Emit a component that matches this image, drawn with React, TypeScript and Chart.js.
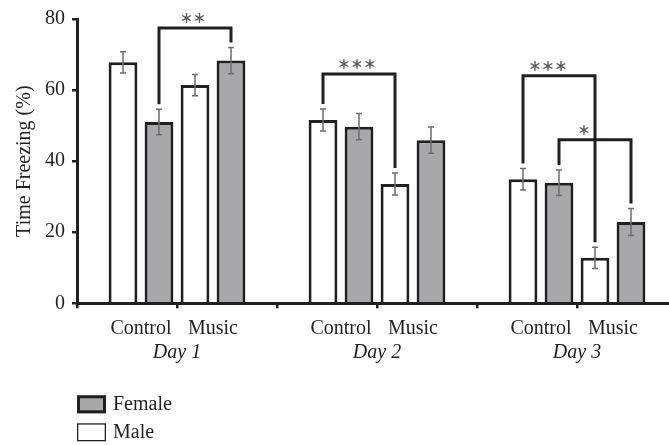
import React, { useEffect, useRef } from "react";
import { Chart, registerables } from "chart.js";

Chart.register(...registerables);

// ---- data -------------------------------------------------------------
const days = ["Day 1", "Day 2", "Day 3"];
const conditions = ["Control", "Music"];
const sexes = ["Female", "Male"];

// mean time freezing (%) per day
const maleControl = [67.8, 51.6, 34.9];
const femaleControl = [51.0, 49.7, 33.9];
const maleMusic = [61.4, 33.6, 12.8];
const femaleMusic = [68.3, 45.9, 22.9];

// standard error of the mean
const maleControlSem = [3.0, 3.1, 3.0];
const femaleControlSem = [3.6, 3.7, 3.6];
const maleMusicSem = [3.0, 3.1, 3.0];
const femaleMusicSem = [3.7, 3.7, 3.8];

// significance brackets: day, compared bars (series index), bracket level (%), stars
const sigDay = [0, 1, 2, 2];
const sigFrom = [1, 0, 0, 1];
const sigTo = [3, 2, 2, 3];
const sigLevel = [77.5, 64.5, 64, 46];
const sigStars = ["**", "***", "***", "*"];

// ---- styling ----------------------------------------------------------
const ink = "#231f20";
const grayFill = "#a8a8ab";
const whiteFill = "#ffffff";
const errColor = "#6d6e71";
const starColor = "#58595b";
const serif = "'Liberation Serif', 'Times New Roman', serif";

const series = [
  { cond: conditions[0], sex: "Male", values: maleControl, sem: maleControlSem },
  { cond: conditions[0], sex: "Female", values: femaleControl, sem: femaleControlSem },
  { cond: conditions[1], sex: "Male", values: maleMusic, sem: maleMusicSem },
  { cond: conditions[1], sex: "Female", values: femaleMusic, sem: femaleMusicSem },
];

const fillFor = (sex: string) => (sex === "Female" ? grayFill : whiteFill);

// days sit on every other unit of the linear x axis, leaving a tick between groups
const groupX = days.map((_, i) => 2 * i + 1);

const errorBars = {
  id: "errorBars",
  afterDatasetsDraw(chart: any) {
    const { ctx } = chart;
    const y = chart.scales.y;
    ctx.save();
    ctx.strokeStyle = errColor;
    ctx.lineWidth = 1.5;
    series.forEach((s, di) => {
      chart.getDatasetMeta(di).data.forEach((bar: any, i: number) => {
        const x = bar.x;
        const top = y.getPixelForValue(s.values[i] + s.sem[i]);
        const bot = y.getPixelForValue(s.values[i] - s.sem[i]);
        ctx.beginPath();
        ctx.moveTo(x, top);
        ctx.lineTo(x, bot);
        ctx.moveTo(x - 3, top);
        ctx.lineTo(x + 3, top);
        ctx.moveTo(x - 3, bot);
        ctx.lineTo(x + 3, bot);
        ctx.stroke();
      });
    });
    ctx.restore();
  },
};

const brackets = {
  id: "brackets",
  afterDatasetsDraw(chart: any) {
    const { ctx } = chart;
    const y = chart.scales.y;
    const legGap = 5;
    const legs: number[] = [];
    const shapes = sigDay.map((d, k) => {
      const a = series[sigFrom[k]];
      const b = series[sigTo[k]];
      const xL = chart.getDatasetMeta(sigFrom[k]).data[d].x;
      const xR = chart.getDatasetMeta(sigTo[k]).data[d].x;
      legs.push(xL, xR);
      return {
        xL,
        xR,
        yTop: y.getPixelForValue(sigLevel[k]),
        yL: y.getPixelForValue(a.values[d] + a.sem[d]) - legGap,
        yR: y.getPixelForValue(b.values[d] + b.sem[d]) - legGap,
        stars: sigStars[k],
      };
    });
    ctx.save();
    ctx.strokeStyle = ink;
    ctx.lineWidth = 3;
    ctx.lineJoin = "miter";
    ctx.lineCap = "butt";
    shapes.forEach((s) => {
      ctx.beginPath();
      ctx.moveTo(s.xL, s.yL);
      ctx.lineTo(s.xL, s.yTop);
      ctx.lineTo(s.xR, s.yTop);
      ctx.lineTo(s.xR, s.yR);
      ctx.stroke();
    });
    ctx.fillStyle = starColor;
    ctx.font = "16px 'DejaVu Sans'";
    ctx.textAlign = "center";
    ctx.textBaseline = "middle";
    shapes.forEach((s) => {
      let cx = (s.xL + s.xR) / 2 - 2;
      // keep the stars clear of another bracket's leg crossing the midpoint
      if (legs.some((lx) => lx !== s.xL && lx !== s.xR && Math.abs(lx - cx) < 10)) cx -= 9;
      const n = s.stars.length;
      for (let i = 0; i < n; i++) {
        ctx.fillText("\u2217", cx + (i - (n - 1) / 2) * 13, s.yTop - 9);
      }
    });
    ctx.restore();
  },
};

const labelsAndLegend = {
  id: "labelsAndLegend",
  afterDraw(chart: any) {
    const { ctx, chartArea } = chart;
    const base = chartArea.bottom;
    ctx.save();
    ctx.fillStyle = ink;
    ctx.textAlign = "center";
    ctx.textBaseline = "alphabetic";
    days.forEach((day, d) => {
      const px = (i: number) => chart.getDatasetMeta(i).data[d].x;
      ctx.font = `20px ${serif}`;
      ctx.fillText(conditions[0], (px(0) + px(1)) / 2, base + 31);
      ctx.fillText(conditions[1], (px(2) + px(3)) / 2, base + 31);
      ctx.font = `italic 20px ${serif}`;
      ctx.fillText(day, chart.scales.x.getPixelForValue(groupX[d]), base + 55);
    });

    // legend
    const lx = chartArea.left;
    ctx.font = `20px ${serif}`;
    ctx.textAlign = "left";
    sexes.forEach((sex, i) => {
      const top = base + 92 + i * 28;
      const bw = sex === "Female" ? 3 : 1.3;
      ctx.fillStyle = fillFor(sex);
      ctx.fillRect(lx, top, 29, 18);
      ctx.strokeStyle = ink;
      ctx.lineWidth = bw;
      ctx.strokeRect(lx + bw / 2, top + bw / 2, 29 - bw, 18 - bw);
      ctx.fillStyle = ink;
      ctx.fillText(sex, lx + 36, top + 15);
    });
    ctx.restore();
  },
};

export default function App() {
  const canvasRef = useRef<HTMLCanvasElement | null>(null);

  useEffect(() => {
    document.body.style.margin = "0";
    const canvas = canvasRef.current;
    if (!canvas) return;
    const chart = new Chart(canvas, {
      type: "bar",
      data: {
        datasets: series.map((s) => ({
          label: `${s.cond} ${s.sex}`,
          data: s.values.map((v, i) => ({ x: groupX[i], y: v })),
          backgroundColor: fillFor(s.sex),
          borderColor: ink,
          borderWidth: 3,
          // the baseline is the x axis line, drawn over the bars
          borderSkipped: "bottom",
          // the bar ruler uses the tick spacing (half a group), hence > 1
          categoryPercentage: 1.44,
          barPercentage: 0.8,
        })),
      },
      options: {
        animation: false,
        responsive: false,
        layout: { padding: { top: 15, left: 0, right: 0, bottom: 0 } },
        plugins: { legend: { display: false }, tooltip: { enabled: false } },
        scales: {
          x: {
            type: "linear",
            min: 0,
            max: 5.92,
            offset: false,
            z: 1,
            grid: {
              offset: false,
              drawOnChartArea: false,
              drawTicks: true,
              tickLength: 5,
              color: ink,
              lineWidth: 2.5,
            },
            border: { display: true, color: ink, width: 3 },
            ticks: { display: false, stepSize: 1, includeBounds: false },
            afterFit: (s: any) => {
              s.height = 141.7;
            },
          },
          y: {
            min: 0,
            max: 80,
            grid: {
              drawOnChartArea: false,
              drawTicks: true,
              tickLength: 5,
              color: ink,
              lineWidth: 2.5,
            },
            border: { display: true, color: ink, width: 3 },
            ticks: {
              stepSize: 20,
              color: ink,
              padding: 7,
              font: { family: serif, size: 20 },
            },
            title: {
              display: true,
              text: "Time Freezing (%)",
              color: ink,
              font: { family: serif, size: 20 },
              padding: { top: 13, bottom: 0 },
            },
            afterFit: (s: any) => {
              s.width = 77;
            },
          },
        },
      } as any,
      plugins: [errorBars, brackets, labelsAndLegend],
    });
    return () => chart.destroy();
  }, []);

  return (
    <div style={{ width: 669, height: 445 }}>
      <canvas ref={canvasRef} width={669} height={445} style={{ display: "block" }} />
    </div>
  );
}
